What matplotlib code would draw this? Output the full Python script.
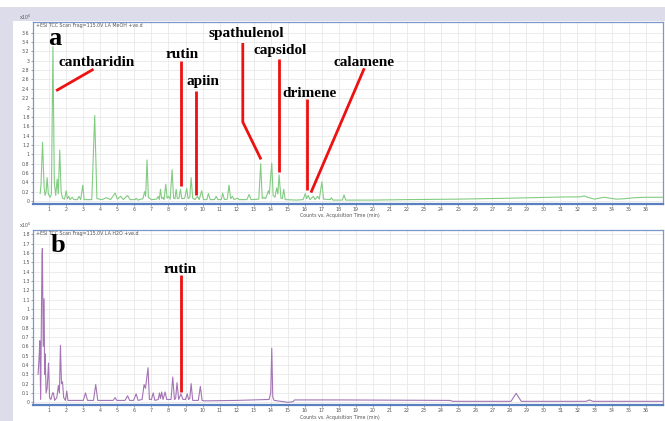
import matplotlib
matplotlib.use("Agg")
import matplotlib.pyplot as plt
import numpy as np
from matplotlib.patches import Rectangle
from matplotlib.ticker import FuncFormatter

# ---------------- data ----------------
# Panel a: MeOH extract, intensity x10^6 counts vs time (min)
time_a = [0.47, 0.52, 0.61, 0.70, 0.76, 0.82, 0.88, 0.95, 1.05, 1.13, 1.22, 1.30, 1.38, 1.47, 1.53,
          1.62, 1.70, 1.78, 1.90, 2.00, 2.07, 2.15, 2.22, 2.35, 2.45, 2.65, 2.75, 2.85, 2.97, 3.05,
          3.50, 3.67, 3.80, 4.10, 4.35, 4.60, 4.87, 5.00, 5.20, 5.35, 5.60, 5.75, 6.05, 6.10, 6.20,
          6.50, 6.60, 6.66, 6.74, 6.82, 7.00, 7.30, 7.40, 7.46, 7.53, 7.60, 7.68, 7.74, 7.84, 7.92,
          8.00, 8.10, 8.21, 8.30, 8.38, 8.45, 8.52, 8.62, 8.70, 8.78, 8.95, 9.07, 9.15, 9.25, 9.33,
          9.42, 9.55, 9.70, 9.80, 9.95, 10.05, 10.25, 10.34, 10.45, 10.70, 10.80, 10.90, 11.10, 11.18,
          11.28, 11.45, 11.55, 11.65, 11.75, 11.85, 12.05, 12.15, 12.60, 12.73, 12.85, 13.30, 13.41,
          13.50, 13.60, 13.70, 13.86, 13.92, 13.97, 14.06, 14.14, 14.25, 14.35, 14.42, 14.49, 14.60,
          14.68, 14.76, 14.85, 15.50, 15.90, 16.03, 16.10, 16.20, 16.30, 16.50, 16.60, 16.75, 16.85,
          17.00, 17.10, 17.50, 17.55, 17.65, 18.20, 18.30, 18.40, 20.0, 22.0, 25.0, 28.0, 31.0, 32.2,
          32.4, 32.6, 33.0, 33.4, 33.6, 33.9, 34.3, 34.8, 35.3, 36.0, 37.0]
signal_a = [0.16, 0.35, 1.26, 0.30, 0.12, 0.20, 0.50, 0.15, 0.08, 0.15, 3.30, 0.40, 0.12, 0.47, 0.15,
            1.09, 0.20, 0.06, 0.04, 0.22, 0.05, 0.10, 0.03, 0.08, 0.03, 0.03, 0.10, 0.03, 0.34, 0.03,
            0.03, 1.83, 0.05, 0.03, 0.07, 0.03, 0.17, 0.04, 0.10, 0.03, 0.12, 0.03, 0.03, 0.06, 0.02,
            0.05, 0.20, 0.10, 0.88, 0.08, 0.03, 0.04, 0.10, 0.03, 0.25, 0.05, 0.08, 0.03, 0.36, 0.06,
            0.10, 0.04, 0.67, 0.06, 0.05, 0.25, 0.05, 0.06, 0.25, 0.05, 0.06, 0.27, 0.05, 0.08, 0.50,
            0.06, 0.03, 0.10, 0.03, 0.22, 0.03, 0.03, 0.16, 0.03, 0.03, 0.10, 0.03, 0.03, 0.17,
            0.03, 0.04, 0.34, 0.05, 0.10, 0.03, 0.06, 0.03, 0.03, 0.14, 0.03, 0.04, 0.80,
            0.05, 0.08, 0.05, 0.22, 0.15, 0.40, 0.81, 0.12, 0.08, 0.28, 0.15, 0.56, 0.06,
            0.05, 0.25, 0.03, 0.02, 0.03, 0.16, 0.05, 0.12, 0.03, 0.10, 0.03, 0.10, 0.04,
            0.41, 0.04, 0.03, 0.07, 0.02, 0.02, 0.13, 0.02, 0.02, 0.03, 0.04, 0.06, 0.085, 0.09,
            0.11, 0.08, 0.04, 0.07, 0.08, 0.06, 0.04, 0.05, 0.07, 0.08, 0.08]

# Panel b: H2O extract
time_b = [0.35, 0.41, 0.45, 0.50, 0.55, 0.58, 0.60, 0.65, 0.70, 0.73, 0.76, 0.82, 0.88, 0.96, 1.02,
          1.10, 1.20, 1.25, 1.32, 1.45, 1.54, 1.60, 1.66, 1.72, 1.78, 1.85, 1.95, 2.03, 2.10, 3.00,
          3.13, 3.25, 3.60, 3.73, 3.85, 4.75, 4.87, 4.97, 5.45, 5.60, 5.72, 5.95, 6.10, 6.22, 6.45,
          6.57, 6.65, 6.80, 6.88, 7.00, 7.10, 7.20, 7.40, 7.47, 7.53, 7.60, 7.68, 7.80, 7.90, 8.15,
          8.25, 8.35, 8.42, 8.50, 8.60, 8.73, 8.85, 9.00, 9.10, 9.18, 9.25, 9.33, 9.42, 9.75, 9.87,
          9.97, 10.10, 12.0, 13.9, 14.0, 14.06, 14.12, 14.20, 15.0, 15.3, 15.4, 18.0, 24.5, 24.7,
          28.1, 28.4, 28.7, 32.5, 32.7, 32.9, 37.0]
signal_b = [0.30, 0.49, 0.66, 0.03, 1.05, 1.56, 1.65, 0.60, 1.11, 0.30, 0.52, 0.10, 0.15, 0.42, 0.05,
            0.03, 0.10, 0.10, 0.02, 0.05, 0.18, 0.10, 0.61, 0.20, 0.22, 0.05, 0.02, 0.12, 0.02, 0.02,
            0.10, 0.02, 0.02, 0.19, 0.02, 0.02, 0.05, 0.02, 0.02, 0.07, 0.02, 0.02, 0.09, 0.02, 0.03,
            0.19, 0.15, 0.37, 0.03, 0.03, 0.10, 0.02, 0.03, 0.10, 0.04, 0.11, 0.03, 0.11, 0.03, 0.03,
            0.27, 0.03, 0.04, 0.21, 0.03, 0.09, 0.03, 0.03, 0.09, 0.03, 0.04, 0.20, 0.02, 0.02, 0.17,
            0.02, 0.015, 0.02, 0.03, 0.10, 0.58, 0.05, 0.02, 0.00, 0.005, 0.025, 0.025, 0.02, 0.01,
            0.01, 0.096, 0.01, 0.01, 0.025, 0.01, 0.01]

title_a = "+ESI TCC Scan Frag=115.0V LA MeOH +ve.d"
title_b = "+ESI TCC Scan Frag=115.0V LA H2O +ve.d"
xlabel = "Counts vs. Acquisition Time (min)"
x_ticks = list(range(1, 37))
y_ticks_a = [round(0.2 * i, 1) for i in range(19)]   # 0 .. 3.6
y_ticks_b = [round(0.1 * i, 1) for i in range(19)]   # 0 .. 1.8

# annotations: (label, text x, text baseline y, line vertices)
annot_a = [
    ("cantharidin", 3.81, 2.88, [(1.41, 2.36), (3.60, 2.82)]),
    ("rutin", 8.80, 3.06, [(8.72, 3.00), (8.72, 0.32)]),
    ("apiin", 10.02, 2.48, [(9.60, 2.36), (9.60, 0.13)]),
    ("spathulenol", 12.59, 3.51, [(12.36, 3.38), (12.36, 1.69), (13.43, 0.89)]),
    ("capsidol", 14.53, 3.14, [(14.47, 3.03), (14.47, 0.61)]),
    ("drimene", 16.30, 2.23, [(16.11, 2.19), (16.11, 0.24)]),
    ("calamene", 19.45, 2.88, [(19.49, 2.84), (16.36, 0.18)]),
]
annot_b = [
    ("rutin", 8.68, 1.383, [(8.72, 1.364), (8.72, 0.114)]),
]

# ---------------- figure ----------------
W, H = 665, 421
fig = plt.figure(figsize=(W / 100, H / 100), dpi=100)
fig.patch.set_facecolor("white")
lav = "#dcdcea"
fig.patches.append(Rectangle((0, 0), 1, 1 - 7 / H, transform=fig.transFigure,
                             facecolor=lav, edgecolor="none", zorder=-10))
fig.patches.append(Rectangle((13 / W, 0), 1 - 13 / W, 1 - 21 / H, transform=fig.transFigure,
                             facecolor="white", edgecolor="none", zorder=-9))

serif = ["Liberation Serif", "DejaVu Serif"]
small = dict(fontsize=3.4, color="#555555", family="DejaVu Sans")


def make_axes(rect, t, s, color, ylim, yticks, title, label_letter, letter_pos, annots):
    ax = fig.add_axes(rect)
    ax.set_facecolor("white")
    ax.plot(t, s, color=color, lw=0.8, zorder=3)
    ax.set_xlim(0.05, 37.0)
    ax.set_ylim(*ylim)
    ax.set_xticks(x_ticks)
    ax.set_yticks(yticks)
    ax.yaxis.set_major_formatter(FuncFormatter(lambda v, p: "%g" % round(v, 2)))
    ax.grid(True, color="#e9e9e9", lw=0.6, zorder=0)
    ax.tick_params(axis="both", labelsize=3.4, labelcolor="#555555", length=1.2,
                   width=0.5, color="#777777", pad=1.2)
    for side, sp in ax.spines.items():
        sp.set_color("#7a98cc")
        sp.set_linewidth(0.9)
    ax.spines["bottom"].set_linewidth(1.6)
    ax.spines["bottom"].set_color("#5b80c0")
    ax.text(0.005, 0.995, title, transform=ax.transAxes, ha="left", va="top", **small)
    ax.text(-0.002, 1.0, "x10$^{6}$", transform=ax.transAxes, ha="right", va="bottom", **small)
    ax.text(letter_pos[0], letter_pos[1], label_letter, family=serif, fontweight="bold",
            fontsize=19, ha="center", va="baseline", zorder=6)
    for name, tx, ty, pts in annots:
        xs = [p[0] for p in pts]
        ys = [p[1] for p in pts]
        ax.plot(xs, ys, color="#ee1111", lw=2.0, solid_capstyle="butt", zorder=5)
        ax.text(tx, ty, name, family=serif, fontweight="bold", fontsize=11,
                ha="center", va="baseline", zorder=6)
    return ax


ax_a = make_axes([33 / W, 1 - 204 / H, (662.7 - 33) / W, (204 - 22) / H],
                 time_a, signal_a, "#82cc82", (-0.064, 3.83), y_ticks_a, title_a, "a",
                 (1.34, 3.34), annot_a)
ax_b = make_axes([33 / W, 1 - 404.7 / H, (662.7 - 33) / W, (404.7 - 230) / H],
                 time_b, signal_b, "#a474b4", (-0.026, 1.847), y_ticks_b, title_b, "b",
                 (1.50, 1.614), annot_b)

fig.text(340 / W, 1 - 215.5 / H, xlabel, ha="center", va="center", **small)
fig.text(340 / W, 1 - 417.5 / H, xlabel, ha="center", va="center", **small)

fig.savefig("out.png", dpi=100)
